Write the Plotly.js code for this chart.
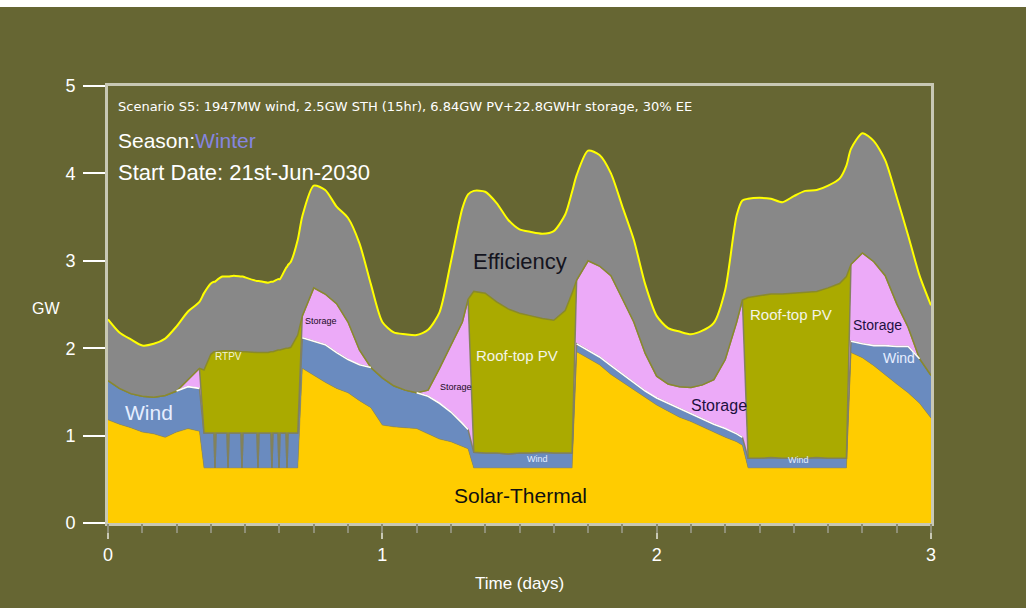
<!DOCTYPE html>
<html>
<head>
<meta charset="utf-8">
<script src="https://cdn.plot.ly/plotly-3.0.1.min.js"></script>
<style>
  html, body { margin: 0; padding: 0; background: #ffffff; }
  #chart { position: absolute; left: 0; top: 7px; width: 1026px; height: 601px; }
</style>
</head>
<body>
<div id="chart"></div>
<script>
// Hour of the run (0 = start of day 1) for each sample
const hours = [0,1,2,3,4,5,6,7,8,8.4,9,9.28,9.36,9.44,10,10.42,10.5,10.58,11,11.64,11.72,11.8,12,13,13.04,13.12,13.2,14,14.26,14.34,14.42,14.88,14.96,15.04,15.58,15.66,15.74,16,16.6,
  17,18,19,20,21,22,23,24,25,26,27,28,29,30,31,31.5,32,33,34,35,36,37,38,39,40,40.6,
  41,42,43,44,45,46,47,48,49,50,51,52,53,54,55,55.5,56,57,58,59,60,61,62,63,64,64.6,
  65,66,67,68,69,70,71,72];

// Supply by source, GW
const solarThermal = [1.18,1.13,1.09,1.04,1.02,0.98,1.04,1.08,1.05,
  0.63,0.63,0.63,0.63,0.63,0.63,0.63,0.63,0.63,0.63,0.63,0.63,0.63,0.63,0.63,0.63,0.63,0.63,0.63,0.63,0.63,0.63,0.63,0.63,0.63,0.63,0.63,0.63,0.63,0.63,
  1.77,1.69,1.61,1.54,1.49,1.40,1.32,1.12,1.10,1.09,1.08,1.02,0.96,0.93,0.88,0.85,
  0.63,0.63,0.63,0.63,0.63,0.63,0.63,0.63,0.63,0.63,
  1.96,1.88,1.81,1.70,1.61,1.52,1.43,1.35,1.28,1.21,1.16,1.10,1.04,0.98,0.93,0.89,
  0.63,0.63,0.63,0.63,0.63,0.63,0.63,0.63,0.63,0.63,
  1.95,1.89,1.80,1.69,1.59,1.49,1.37,1.20];

const wind = [0.45,0.41,0.39,0.41,0.42,0.48,0.47,0.48,0.49,
  0.40,0.40,0.40,0,0.40,0.40,0.40,0,0.40,0.40,0.40,0,0.40,0.40,0.40,0.40,0,0.40,0.40,0.40,0,0.40,0.40,0,0.40,0.40,0,0.40,0.40,0.40,
  0.35,0.39,0.43,0.41,0.38,0.41,0.46,0.54,0.47,0.43,0.41,0.43,0.41,0.34,0.26,0.22,
  0.18,0.17,0.17,0.16,0.17,0.17,0.18,0.17,0.17,0.17,
  0.09,0.09,0.09,0.10,0.09,0.09,0.08,0.08,0.09,0.10,0.09,0.09,0.09,0.10,0.09,0.09,
  0.11,0.11,0.12,0.11,0.11,0.11,0.12,0.11,0.11,0.11,
  0.13,0.16,0.23,0.34,0.43,0.53,0.51,0.49];

const storage = [0,0,0,0,0,0,0,0.08,0.23,
  0,0,0,0,0,0,0,0,0,0,0,0,0,0,0,0,0,0,0,0,0,0,0,0,0,0,0,0,0,0,
  0.25,0.61,0.58,0.56,0.43,0.17,0,0,0,0,0,0.07,0.40,0.77,1.16,1.49,
  0,0,0,0,0,0,0,0,0,0,
  0.73,1.03,1.04,1.03,0.87,0.69,0.43,0.25,0.22,0.25,0.30,0.39,0.51,0.79,1.28,1.57,
  0,0,0,0,0,0,0,0,0,0,
  0.88,1.04,0.96,0.80,0.49,0.22,0,0];

const rooftopPV = [0,0,0,0,0,0,0,0,0,
  0.72,0.90,0.93,1.33,0.93,0.94,0.94,1.34,0.94,0.94,0.93,1.33,0.93,0.93,0.92,0.92,1.32,0.92,0.92,0.93,1.33,0.93,0.95,1.35,0.95,0.97,1.37,0.97,0.98,1.12,
  0,0,0,0,0,0,0,0,0,0,0,0,0,0,0,0,
  1.84,1.83,1.73,1.66,1.60,1.57,1.53,1.52,1.63,1.83,
  0,0,0,0,0,0,0,0,0,0,0,0,0,0,0,0,
  1.84,1.86,1.87,1.88,1.89,1.90,1.90,1.95,2.00,2.08,
  0,0,0,0,0,0,0,0];

const efficiency = [0.70,0.64,0.62,0.58,0.61,0.65,0.74,0.78,0.76,
  0.88,0.81,0.80,0.80,0.81,0.85,0.85,0.85,0.85,0.86,0.86,0.86,0.86,0.85,0.82,0.82,0.82,0.82,0.80,0.80,0.80,0.80,0.81,0.81,0.81,0.92,0.93,0.95,0.98,1.09,
  1.14,1.17,1.19,1.11,1.19,1.22,0.95,0.64,0.61,0.64,0.66,0.69,0.64,0.95,1.30,1.20,
  1.15,1.16,1.13,1.02,0.96,0.96,0.97,1.02,1.10,1.16,
  1.20,1.26,1.27,1.17,1.05,0.94,0.79,0.69,0.64,0.63,0.61,0.62,0.65,0.80,1.22,1.14,
  1.13,1.12,1.09,1.05,1.11,1.16,1.16,1.17,1.20,1.27,
  1.32,1.37,1.38,1.32,1.22,1.05,0.95,0.80];

const days = hours.map(h => h / 24);

const FONT = 'Liberation Sans, Arial, sans-serif';
const SMALL_FONT = 'DejaVu Sans, Liberation Sans, sans-serif';
const OLIVE = '#666633';
const EDGE = 'rgba(128,128,96,0.9)';

function layer(name, y, fill, line, width, shape) {
  return {
    type: 'scatter', mode: 'lines', name: name, x: days, y: y,
    stackgroup: 'supply', fillcolor: fill,
    line: { color: line, width: width, shape: shape || 'linear', smoothing: 0.7 },
    hoverinfo: 'skip'
  };
}

// White seam along the top of the wind band wherever storage sits on it
const seam = days.map((d, i) => {
  const on = storage[i] > 0 ||
    (rooftopPV[i] === 0 && ((i > 0 && storage[i - 1] > 0) || (i < days.length - 1 && storage[i + 1] > 0)));
  return on ? solarThermal[i] + wind[i] : null;
});

const traces = [
  layer('Solar-Thermal', solarThermal, '#ffcc00', 'rgba(150,140,80,0.55)', 1),
  layer('Wind', wind, '#6a8bbf', EDGE, 1.5),
  layer('Storage', storage, '#ecaaf8', EDGE, 1.5),
  layer('Roof-top PV', rooftopPV, '#aaaa00', 'rgba(138,138,40,0.95)', 1.5),
  layer('Efficiency', efficiency, '#888888', '#ffff00', 2, 'spline'),
  // seam sits on the companion axis that carries the 3-hour tick marks
  { type: 'scatter', mode: 'lines', x: days, y: seam, xaxis: 'x2', connectgaps: false,
    line: { color: '#ffffff', width: 1.6 }, hoverinfo: 'skip', showlegend: false }
];

function label(text, x, y, size, color) {
  return { text: text, x: x, y: y, xref: 'x', yref: 'y', showarrow: false,
           xanchor: 'center', yanchor: 'middle',
           font: { family: FONT, size: size, color: color } };
}
function note(text, x, y, size, color, xanchor, family) {
  return { text: text, x: x, y: y, xref: 'paper', yref: 'paper', showarrow: false,
           xanchor: xanchor || 'left', yanchor: 'middle',
           font: { family: family || FONT, size: size, color: color } };
}

const annotations = [
  note('Scenario S5: 1947MW wind, 2.5GW STH (15hr), 6.84GW PV+22.8GWHr storage, 30% EE', 0.010, 0.954, 13, '#ffffff', 'left', SMALL_FONT),
  note('Season:<span style="color:#8585e0">Winter</span>', 0.010, 0.876, 21, '#ffffff'),
  note('Start Date: 21st-Jun-2030', 0.010, 0.801, 22, '#ffffff'),
  note('GW', -0.075, 0.49, 16, '#ffffff', 'center'),
  label('Wind', 0.149, 1.26, 21, '#e6eeff'),
  label('RTPV', 0.441, 1.91, 10, '#f2f2d8'),
  label('Storage', 0.776, 2.31, 9, '#1a0a1a'),
  label('Storage', 1.268, 1.56, 9, '#1a0a1a'),
  label('Efficiency', 1.501, 2.99, 22, '#14141e'),
  label('Roof-top PV', 1.491, 1.92, 15, '#f4f4e8'),
  label('Wind', 1.567, 0.73, 9, '#e6eeff'),
  label('Storage', 2.227, 1.35, 16, '#1c1040'),
  label('Roof-top PV', 2.489, 2.39, 15, '#f4f4e8'),
  label('Storage', 2.806, 2.27, 14, '#1c1040'),
  label('Wind', 2.883, 1.89, 14, '#e6eeff'),
  label('Wind', 2.518, 0.72, 9, '#e6eeff'),
  label('Solar-Thermal', 1.505, 0.32, 21, '#101010')
];

const layout = {
  width: 1026, height: 601,
  margin: { l: 108, r: 95, t: 79, b: 85, pad: 0 },
  paper_bgcolor: OLIVE, plot_bgcolor: OLIVE,
  showlegend: false,
  font: { family: FONT, color: '#ffffff' },
  xaxis: {
    range: [0, 3], tickmode: 'linear', tick0: 0, dtick: 1,
    ticks: 'outside', ticklen: 13, tickwidth: 2, tickcolor: '#c8c8b4',
    showline: true, linecolor: '#c8c8b4', linewidth: 3, mirror: true,
    showgrid: false, zeroline: false,
    tickfont: { family: FONT, size: 18, color: '#ffffff' },
    title: { text: 'Time (days)', font: { family: FONT, size: 17, color: '#ffffff' }, standoff: 14 }
  },
  xaxis2: {
    overlaying: 'x', anchor: 'y', side: 'bottom',
    range: [0, 3], tickmode: 'linear', tick0: 0, dtick: 0.125,
    ticks: 'outside', ticklen: 9, tickwidth: 2, tickcolor: '#8f8f76',
    showticklabels: false, showline: false, showgrid: false, zeroline: false
  },
  yaxis: {
    range: [0, 5], tickmode: 'linear', tick0: 0, dtick: 1,
    ticks: 'outside', ticklen: 22, tickwidth: 2, tickcolor: '#ffffff',
    ticklabelstandoff: 4,
    showline: true, linecolor: '#c8c8b4', linewidth: 3, mirror: true,
    showgrid: false, zeroline: false,
    tickfont: { family: FONT, size: 18, color: '#ffffff' }
  },
  annotations: annotations
};

Plotly.newPlot('chart', traces, layout, { staticPlot: true, displayModeBar: false });
</script>
</body>
</html>
